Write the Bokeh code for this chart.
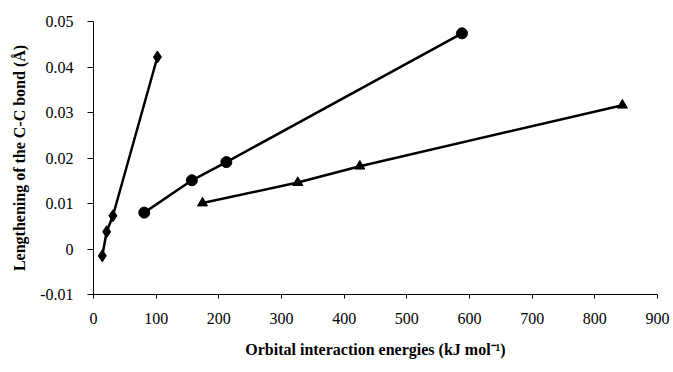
from bokeh.plotting import figure
from bokeh.models import FixedTicker, CustomJSTickFormatter, Range1d
from bokeh.embed import file_html
from bokeh.resources import INLINE

# Data
diamond_x = [14, 21, 31, 102]
diamond_y = [-0.0015, 0.0038, 0.0073, 0.0422]
circle_x = [81, 157, 212, 588]
circle_y = [0.0080, 0.0151, 0.0191, 0.0474]
triangle_x = [174, 326, 425, 844]
triangle_y = [0.0101, 0.0146, 0.0182, 0.0316]

x_ticks = [0, 100, 200, 300, 400, 500, 600, 700, 800, 900]
y_ticks = [-0.01, 0, 0.01, 0.02, 0.03, 0.04, 0.05]

FONT = "Liberation Serif"

p = figure(width=673, height=372, output_backend="svg", toolbar_location=None,
           x_range=Range1d(0, 900), y_range=Range1d(-0.01, 0.05),
           min_border_left=93, min_border_right=16, min_border_top=21, min_border_bottom=78)
p.outline_line_color = None
p.grid.grid_line_color = None
p.background_fill_color = "white"
p.border_fill_color = "white"

p.line(diamond_x, diamond_y, line_color="black", line_width=2.5)
p.scatter(diamond_x, diamond_y, marker="diamond", size=12, color="black")
p.line(circle_x, circle_y, line_color="black", line_width=2.5)
p.scatter(circle_x, circle_y, marker="circle", size=11, color="black")
p.line(triangle_x, triangle_y, line_color="black", line_width=2.5)
p.scatter(triangle_x, triangle_y, marker="triangle", size=10, color="black")

xa = p.xaxis[0]
xa.ticker = FixedTicker(ticks=x_ticks)
xa.axis_label = "Orbital interaction energies (kJ mol\u207b\u00b9)"
xa.minor_tick_line_color = None
xa.major_tick_in = 0
xa.major_tick_out = 4
xa.major_label_standoff = 14
xa.axis_label_standoff = 14

ya = p.yaxis[0]
ya.ticker = FixedTicker(ticks=y_ticks)
ya.formatter = CustomJSTickFormatter(code="return tick.toFixed(2).replace(/\\.?0+$/, '');")
ya.axis_label = "Lengthening of the C-C bond (\u00c5)"
ya.minor_tick_line_color = None
ya.major_tick_in = 0
ya.major_tick_out = 6
ya.major_label_standoff = 14
ya.axis_label_standoff = 9

for ax in (xa, ya):
    ax.axis_line_color = "black"
    ax.axis_line_width = 1
    ax.major_tick_line_color = "black"
    ax.major_label_text_font = FONT
    ax.major_label_text_font_size = "16px"
    ax.major_label_text_color = "black"
    ax.axis_label_text_font = FONT
    ax.axis_label_text_font_size = "16px"
    ax.axis_label_text_font_style = "bold"
    ax.axis_label_text_color = "black"

open("out.html", "w").write(file_html(p, INLINE))
